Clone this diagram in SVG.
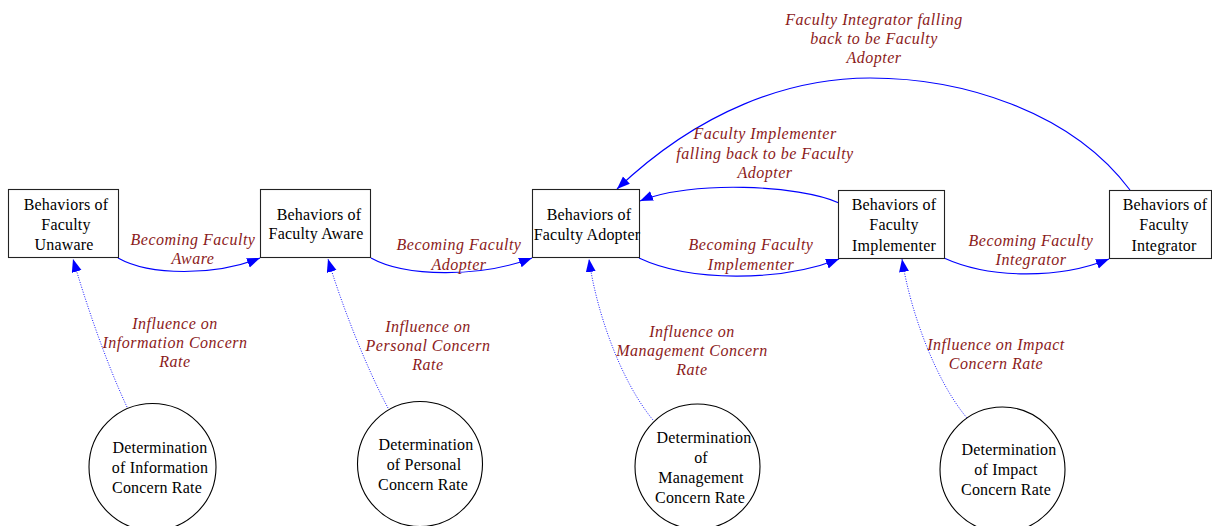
<svg xmlns="http://www.w3.org/2000/svg" width="1212" height="526" viewBox="0 0 1212 526">
<style>
.box{fill:#fff;stroke:#222;stroke-width:1.1}
.circ{fill:#fff;stroke:#000;stroke-width:1.1}
.nt{font-family:"Liberation Serif","Times New Roman",serif;font-size:16px;fill:#000;text-anchor:middle;letter-spacing:0.2px}
.el{font-family:"Liberation Serif","Times New Roman",serif;font-size:16px;font-style:italic;fill:#8b1a1a;text-anchor:middle;letter-spacing:0.5px}
.e{fill:none;stroke:#0000ff;stroke-width:1.1}
.d{fill:none;stroke:#0000ff;stroke-width:0.9;stroke-dasharray:1 1.5}
</style>
<defs>
<marker id="ah" markerUnits="userSpaceOnUse" markerWidth="14" markerHeight="11" refX="13" refY="5" orient="auto">
<path d="M0,0 L13,5 L0,10 z" fill="#0000ff"/>
</marker>
</defs>
<rect width="1212" height="526" fill="#fff"/>
<g id="connectors">
<path class="e" d="M118,258 C150,276 215,276 260,258" marker-end="url(#ah)"/>
<path class="e" d="M371,258 C405,277 480,278 532,258" marker-end="url(#ah)"/>
<path class="e" d="M639,258 C690,282 780,282 839,259" marker-end="url(#ah)"/>
<path class="e" d="M944,258 C990,279 1060,279 1109,259" marker-end="url(#ah)"/>
<path class="e" d="M839,203 C800,185 690,180 640,201" marker-end="url(#ah)"/>
<path class="e" d="M1130,190 C1070,110 960,78 870,78 C790,78 700,110 617,189" marker-end="url(#ah)"/>
<path class="d" d="M127,407 C105,360 85,300 73,259" marker-end="url(#ah)"/>
<path class="d" d="M388,408 C365,365 340,300 328,259" marker-end="url(#ah)"/>
<path class="d" d="M653,420 C620,380 596,310 589,259" marker-end="url(#ah)"/>
<path class="d" d="M967,418 C935,380 910,310 902,259" marker-end="url(#ah)"/>
<text class="el" x="193" y="245">Becoming Faculty</text>
<text class="el" x="193" y="264">Aware</text>
<text class="el" x="459" y="250">Becoming Faculty</text>
<text class="el" x="459" y="270">Adopter</text>
<text class="el" x="751" y="250">Becoming Faculty</text>
<text class="el" x="751" y="270">Implementer</text>
<text class="el" x="1031" y="246">Becoming Faculty</text>
<text class="el" x="1031" y="265">Integrator</text>
<text class="el" x="765" y="139">Faculty Implementer</text>
<text class="el" x="765" y="159">falling back to be Faculty</text>
<text class="el" x="765" y="178">Adopter</text>
<text class="el" x="874" y="25">Faculty Integrator falling</text>
<text class="el" x="874" y="44">back to be Faculty</text>
<text class="el" x="874" y="63">Adopter</text>
<text class="el" x="175" y="329">Influence on</text>
<text class="el" x="175" y="348">Information Concern</text>
<text class="el" x="175" y="367">Rate</text>
<text class="el" x="428" y="332">Influence on</text>
<text class="el" x="428" y="351">Personal Concern</text>
<text class="el" x="428" y="370">Rate</text>
<text class="el" x="692" y="337">Influence on</text>
<text class="el" x="692" y="356">Management Concern</text>
<text class="el" x="692" y="375">Rate</text>
<text class="el" x="996" y="350">Influence on Impact</text>
<text class="el" x="996" y="369">Concern Rate</text>
</g>
<g id="unaware">
<rect class="box" x="8.5" y="189.5" width="110" height="68"/>
<text class="nt" x="66" y="210">Behaviors of</text>
<text class="nt" x="66" y="230">Faculty</text>
<text class="nt" x="64" y="250">Unaware</text>
</g>
<g id="aware">
<rect class="box" x="260.5" y="189.5" width="110" height="68"/>
<text class="nt" x="319" y="220">Behaviors of</text>
<text class="nt" x="316" y="239">Faculty Aware</text>
</g>
<g id="adopter">
<rect class="box" x="532.5" y="189.5" width="107" height="68"/>
<text class="nt" x="589" y="220">Behaviors of</text>
<text class="nt" x="587" y="240">Faculty Adopter</text>
</g>
<g id="implementer">
<rect class="box" x="838.5" y="190.5" width="106" height="68"/>
<text class="nt" x="894" y="210">Behaviors of</text>
<text class="nt" x="894" y="230">Faculty</text>
<text class="nt" x="894" y="251">Implementer</text>
</g>
<g id="integrator">
<rect class="box" x="1109.5" y="190.5" width="102" height="68"/>
<text class="nt" x="1165" y="210">Behaviors of</text>
<text class="nt" x="1164" y="230">Faculty</text>
<text class="nt" x="1164" y="251">Integrator</text>
</g>
<g id="info">
<circle class="circ" cx="152.5" cy="467" r="63.5"/>
<text class="nt" x="160" y="453">Determination</text>
<text class="nt" x="160" y="473">of Information</text>
<text class="nt" x="157" y="493">Concern Rate</text>
</g>
<g id="personal">
<circle class="circ" cx="420" cy="464" r="62.5"/>
<text class="nt" x="426" y="450">Determination</text>
<text class="nt" x="424" y="470">of Personal</text>
<text class="nt" x="423" y="490">Concern Rate</text>
</g>
<g id="management">
<circle class="circ" cx="697.5" cy="466.5" r="62.5"/>
<text class="nt" x="704" y="443">Determination</text>
<text class="nt" x="701" y="463">of</text>
<text class="nt" x="701" y="483">Management</text>
<text class="nt" x="700" y="503">Concern Rate</text>
</g>
<g id="impact">
<circle class="circ" cx="1002.5" cy="469.5" r="62.5"/>
<text class="nt" x="1009" y="455">Determination</text>
<text class="nt" x="1006" y="475">of Impact</text>
<text class="nt" x="1006" y="495">Concern Rate</text>
</g>
</svg>
